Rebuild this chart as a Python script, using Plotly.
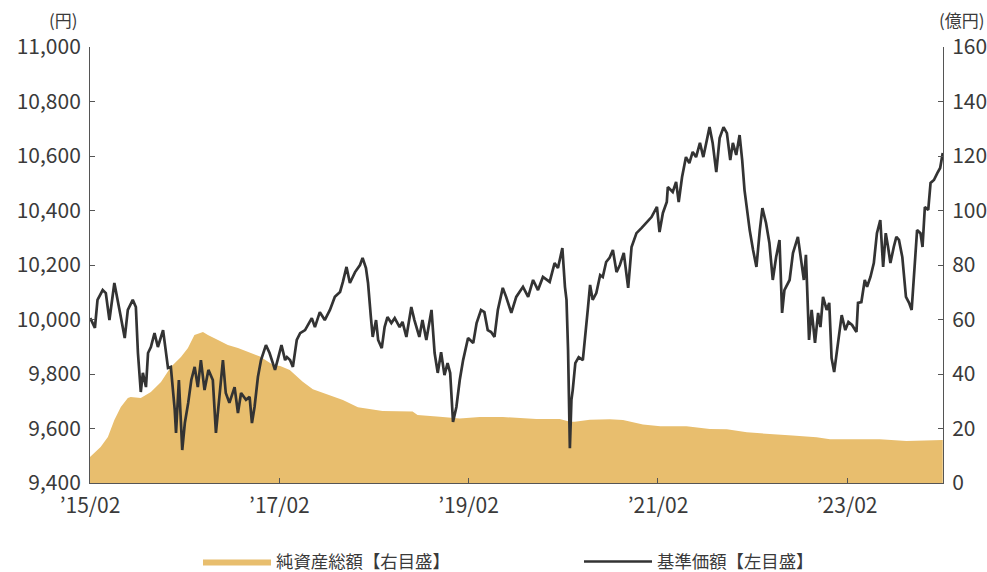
import plotly.graph_objects as go

# 基準価額（円）
nav_dates = [
"2015-02-02","2015-02-20","2015-03-02","2015-03-22","2015-04-03","2015-04-17","2015-05-06","2015-05-19","2015-05-31","2015-06-15",
"2015-06-27","2015-07-16","2015-07-28","2015-08-05","2015-08-11","2015-08-16","2015-08-24","2015-09-05","2015-09-13","2015-09-24",
"2015-10-08","2015-10-21","2015-11-10","2015-11-21","2015-11-29","2015-12-10","2015-12-25","2015-12-30","2016-01-10","2016-01-23",
"2016-02-02","2016-02-15","2016-02-27","2016-03-11","2016-03-23","2016-04-04","2016-04-18","2016-05-03","2016-05-20","2016-06-01",
"2016-06-15","2016-06-28","2016-07-09","2016-07-23","2016-08-12","2016-08-25","2016-09-06","2016-09-25","2016-10-09","2016-10-18",
"2016-10-28","2016-11-10","2016-11-22","2016-12-11","2016-12-25","2017-01-15","2017-01-28","2017-02-09","2017-02-23",
"2017-03-02","2017-03-14","2017-03-25","2017-04-09","2017-04-22","2017-05-11","2017-06-06","2017-06-18","2017-07-07","2017-07-26",
"2017-08-15","2017-09-03","2017-09-23","2017-10-04","2017-10-18","2017-10-31","2017-11-20","2017-12-09","2017-12-19","2018-01-01",
"2018-01-09","2018-01-20","2018-01-27","2018-02-09","2018-02-17","2018-03-03","2018-03-14","2018-03-25","2018-04-09","2018-04-22",
"2018-05-11","2018-05-22","2018-06-06","2018-06-25","2018-07-07","2018-07-26","2018-08-07","2018-08-22","2018-09-11","2018-09-23",
"2018-10-05","2018-10-18","2018-10-31","2018-11-12","2018-11-22","2018-12-03","2018-12-16","2018-12-29","2019-01-11","2019-01-30",
"2019-02-19","2019-03-04",
"2019-03-21","2019-04-03","2019-04-16","2019-04-29","2019-05-12","2019-05-25","2019-06-13","2019-06-26","2019-07-16","2019-08-04",
"2019-08-30","2019-09-19","2019-10-08","2019-10-27","2019-11-15","2019-12-11","2019-12-30","2020-01-12","2020-01-29","2020-02-08",
"2020-02-14","2020-02-20","2020-02-24","2020-02-27","2020-03-04","2020-03-09","2020-03-19","2020-04-01","2020-04-17","2020-04-27",
"2020-05-06","2020-05-15","2020-05-25","2020-06-08","2020-06-23","2020-07-03","2020-07-16","2020-07-29","2020-08-11","2020-08-25",
"2020-09-07","2020-09-22","2020-10-09","2020-10-22","2020-11-10","2020-11-30","2020-12-19","2021-01-07","2021-01-28","2021-02-07",
"2021-02-20","2021-03-07",
"2021-03-11","2021-03-30","2021-04-12","2021-04-22","2021-05-05","2021-05-20","2021-06-02","2021-06-15","2021-06-28","2021-07-13",
"2021-07-26","2021-08-05","2021-08-19","2021-08-31","2021-09-14","2021-09-27","2021-10-12","2021-10-25","2021-11-07","2021-11-17",
"2021-11-30","2021-12-13","2021-12-23","2022-01-01","2022-01-11","2022-01-21","2022-02-03","2022-02-16","2022-03-01","2022-03-11",
"2022-03-25","2022-04-07","2022-04-20","2022-05-03","2022-05-16","2022-05-26","2022-06-04","2022-06-24","2022-07-07","2022-07-26",
"2022-08-09","2022-08-18","2022-08-26","2022-09-07","2022-09-17","2022-09-30","2022-10-12","2022-10-21","2022-10-31","2022-11-14",
"2022-11-24","2022-12-03","2022-12-13","2022-12-28","2023-01-11","2023-01-25","2023-02-06","2023-02-20","2023-03-09","2023-03-15",
"2023-03-28","2023-04-10","2023-04-19","2023-05-02","2023-05-15","2023-05-27","2023-06-09","2023-06-20","2023-06-30","2023-07-09",
"2023-07-18","2023-07-31","2023-08-10","2023-08-20","2023-09-02","2023-09-16","2023-09-28","2023-10-08","2023-10-20","2023-10-29",
"2023-11-11","2023-11-19","2023-11-28","2023-12-11","2023-12-20","2024-01-02","2024-01-15","2024-01-26","2024-02-05",
]
nav_values = [
10005,9969,10072,10108,10097,9998,10134,10061,10009,9932,
10035,10072,10046,9877,9778,9734,9804,9752,9877,9899,
9950,9899,9961,9888,9822,9826,9668,9584,9778,9521,
9620,9694,9778,9826,9752,9851,9741,9815,9778,9584,
9716,9851,9730,9694,9752,9657,9730,9705,9716,9620,
9679,9789,9851,9906,9877,9815,9862,9906,9851,
9862,9851,9826,9925,9950,9961,10005,9972,10027,9998,
10035,10083,10101,10138,10193,10134,10174,10200,10226,10189,
10134,10009,9936,9998,9925,9895,9972,10009,9987,10005,
9972,9991,9936,10046,9998,9936,9998,9925,10035,9877,
9804,9880,9796,9840,9804,9624,9679,9778,9851,9932,
9914,9987,
10035,10027,9961,9954,9936,10035,10116,10083,10024,10083,
10120,10083,10145,10108,10156,10138,10207,10189,10262,10120,
10072,9888,9705,9528,9705,9741,9840,9862,9851,9936,
10035,10127,10072,10097,10163,10156,10211,10226,10255,10174,
10200,10244,10116,10266,10317,10336,10358,10376,10413,10321,
10391,10431,
10486,10468,10505,10431,10523,10596,10574,10615,10596,10648,
10596,10648,10706,10648,10541,10666,10706,10684,10585,10648,
10604,10677,10585,10475,10402,10328,10255,10193,10328,10409,
10354,10281,10145,10229,10292,10024,10108,10145,10244,10303,
10207,10145,10237,9925,10035,9914,10024,9972,10083,10035,
10061,9858,9807,9925,10016,9961,9991,9980,9954,10061,
10064,10145,10120,10156,10207,10317,10365,10193,10317,10266,
10207,10266,10303,10292,10229,10083,10061,10035,10229,10328,
10317,10266,10413,10402,10501,10512,10537,10556,10611,
]

# 純資産総額（億円）
asset_dates = [
"2015-02-01","2015-03-14","2015-04-11","2015-05-06","2015-05-31","2015-06-27","2015-07-08","2015-08-16","2015-09-24","2015-11-02",
"2015-12-10","2016-01-18","2016-02-14","2016-03-10","2016-04-12","2016-05-01","2016-06-09","2016-07-17","2016-08-25","2016-10-14",
"2016-11-18","2017-01-08","2017-02-04","2017-03-13","2017-04-08","2017-05-02","2017-06-10","2017-08-02","2017-10-04","2017-12-01",
"2018-01-17","2018-03-06","2018-06-30","2018-07-19","2018-10-13","2018-12-29","2019-03-16","2019-06-13","2019-10-21","2020-01-19",
"2020-02-27","2020-03-17","2020-05-14","2020-07-30","2020-09-19","2020-12-05","2021-02-10","2021-05-22","2021-08-20","2021-10-25",
"2022-01-10","2022-04-08","2022-07-05","2022-10-06","2022-11-27","2023-06-07","2023-09-18","2024-02-05",
]
asset_values = [
9.5,13.2,16.9,23.1,27.9,31.2,31.6,31.2,33.4,37.1,
42.6,46.2,49.5,54.3,55.4,54.3,52.5,50.6,49.5,47.7,
46.4,43.3,42.9,41.5,39.3,37.2,34.4,32.7,30.5,27.8,
27.0,26.4,26.2,25.0,24.3,23.7,24.2,24.2,23.5,23.5,
22.5,22.5,23.2,23.4,23.1,21.5,20.8,20.8,19.8,19.7,
18.6,17.9,17.4,16.8,16.1,16.1,15.4,15.8,
]

x_tickvals = ["2015-02-01","2017-02-01","2019-02-01","2021-02-01","2023-02-01"]
x_ticktext = ["’15/02","’17/02","’19/02","’21/02","’23/02"]
left_ticks = [9400,9600,9800,10000,10200,10400,10600,10800,11000]
right_ticks = [0,20,40,60,80,100,120,140,160]

FONT = "Noto Sans CJK JP"
TXT = "#3a3a3a"
AX = "#555555"
TICKFONT = dict(family=FONT, size=21, color=TXT)

fig = go.Figure()
fig.add_trace(go.Scatter(
    x=asset_dates, y=asset_values, name="純資産総額【右目盛】",
    mode="lines", line=dict(width=0, color="#E8BE6E"),
    fill="tozeroy", fillcolor="#E8BE6E", yaxis="y", hoverinfo="skip",
))
fig.add_trace(go.Scatter(
    x=nav_dates, y=nav_values, name="基準価額【左目盛】",
    mode="lines", line=dict(width=2.7, color="#333333"), yaxis="y2",
))

axis_common = dict(showline=True, linecolor=AX, linewidth=1,
                   ticks="inside", ticklen=5, tickcolor=AX,
                   showgrid=False, zeroline=False, automargin=False,
                   tickfont=TICKFONT)

fig.update_layout(
    width=987, height=572,
    margin=dict(l=90, r=44, t=47, b=89, autoexpand=False),
    paper_bgcolor="white", plot_bgcolor="white",
    font=dict(family=FONT, size=18, color=TXT),
    showlegend=True,
    legend=dict(orientation="h", xref="container", yref="container",
                x=0.2006, xanchor="left", y=0.018, yanchor="middle",
                entrywidth=298, entrywidthmode="pixels", itemwidth=68,
                font=dict(family=FONT, size=17.4, color=TXT), bgcolor="rgba(0,0,0,0)"),
    xaxis=dict(type="date", range=["2015-02-01", "2024-02-06"],
               tickvals=x_tickvals, ticktext=x_ticktext, ticklabelstandoff=4,
               **axis_common),
    yaxis=dict(range=[0, 160], tickvals=right_ticks, side="right", ticklabelstandoff=4,
               **axis_common),
    yaxis2=dict(range=[9400, 11000], tickvals=left_ticks, tickformat=",d",
                side="left", overlaying="y", ticklabelstandoff=4,
                **axis_common),
    annotations=[
        dict(text="(円)", xref="paper", yref="paper", x=-0.0117, y=1.0, yshift=28,
             xanchor="right", yanchor="middle", showarrow=False,
             font=dict(family=FONT, size=17, color=TXT)),
        dict(text="(億円)", xref="paper", yref="paper", x=1.0516, y=1.0, yshift=28,
             xanchor="right", yanchor="middle", showarrow=False,
             font=dict(family=FONT, size=17, color=TXT)),
    ],
)

fig.write_html("out.html", config={"displayModeBar": False},
               post_script="document.body.style.margin='0';document.body.style.padding='0';")
